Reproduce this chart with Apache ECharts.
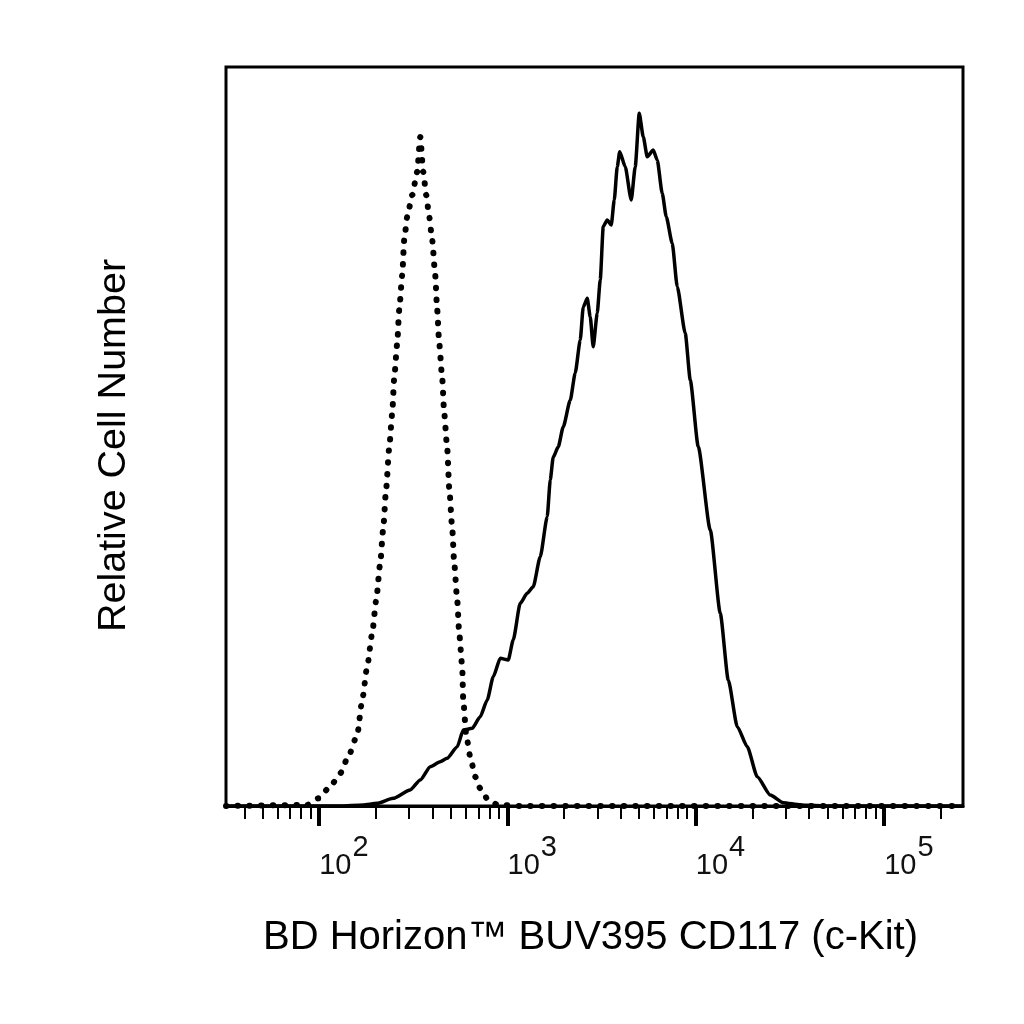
<!DOCTYPE html>
<html>
<head>
<meta charset="utf-8">
<script src="https://cdn.jsdelivr.net/npm/echarts@6/dist/echarts.min.js"></script>
<style>html,body{margin:0;padding:0;background:#fff;}#c{width:1024px;height:1024px;}</style>
</head>
<body>
<div id="c"></div>
<script>
// ---- data ----
var xTitle = 'BD Horizon\u2122 BUV395 CD117 (c-Kit)';
var yTitle = 'Relative Cell Number';
var xMin = 32;
var xMax = 262144;
var majorTickValues = [100, 1000, 10000, 100000];
var minorTickValues = [40, 50, 60, 70, 80, 90, 200, 300, 400, 500, 600, 700, 800, 900,
  2000, 3000, 4000, 5000, 6000, 7000, 8000, 9000, 20000, 30000, 40000, 50000, 60000, 70000, 80000, 90000, 200000];

// stained sample (solid line)
var stainedX = [32, 129, 171, 203, 247, 304, 344, 389, 439, 478, 541, 582, 649, 716, 780, 840, 915, 1009, 1072, 1168,
  1272, 1369, 1492, 1625, 1686, 1748, 1859, 1976, 2153, 2288, 2433, 2523, 2650, 2749, 2851, 2995, 3107, 3223, 3384, 3554,
  3687, 3825, 3943, 4217, 4538, 4766, 5005, 5256, 5520, 5939, 6237, 6630, 6963, 7493, 7966, 8785, 9340, 10297, 11926, 13480,
  14865, 16596, 18750, 21190, 24840, 29120, 35850, 51730, 262144];
var stainedY = [0, 0, 0.14, 0.37, 1.04, 2.17, 3.52, 5.32, 5.99, 6.45, 8.02, 10.28, 10.51, 12.08, 14.34, 17.49, 19.99, 19.76, 22.46, 27.43,
  28.78, 29.67, 33.73, 39.15, 44.1, 47.2, 48.6, 51.3, 54.9, 58.6, 63.05, 67.5, 68.7, 66.2, 62.15, 66.7, 71.2, 78.4, 79.29, 78.61,
  82.0, 86.5, 88.53, 86.5, 82.0, 86.5, 93.73, 90.56, 87.86, 88.76, 87.41, 82.9, 79.74, 76.14, 70.27, 63.96, 57.64, 48.62, 37.35, 26.07,
  17.05, 10.73, 8.02, 3.96, 1.49, 0.45, 0.14, 0, 0];

// isotype control (dotted line)
var controlX = [32, 86.4, 98.8, 114.4, 129.3, 142.6, 159.2, 169.2, 179.8, 191.2, 200.8, 210.9, 218.8, 226.9, 235.3, 244.2,
  250.2, 259.6, 266.0, 276.0, 282.8, 293.4, 311.9, 331.5, 344.0, 356.8, 370.2, 383.9, 398.2, 413.0, 423.3, 433.8, 450.0,
  461.1, 478.4, 490.3, 508.6, 521.2, 540.6, 554.0, 574.7, 581.8, 603.5, 633.8, 673.8, 716.1, 789.6, 892.6, 1168, 262144];
var controlY = [0, 0.14, 1.04, 2.61, 4.42, 6.67, 9.61, 14.34, 18.85, 23.37, 27.87, 32.84, 37.57, 43.03, 48.40, 53.13,
  57.87, 62.61, 67.11, 71.85, 76.58, 79.74, 82.67, 85.82, 90.52, 85.82, 82.67, 79.74, 76.58, 71.85, 67.11, 62.61, 57.87,
  53.13, 48.40, 43.03, 37.57, 32.84, 27.87, 23.37, 18.85, 14.34, 9.61, 6.67, 3.96, 2.39, 0.81, 0.14, 0, 0];

function pairs(xs, ys) { return xs.map(function (x, i) { return [x, ys[i]]; }); }
function lg(v) { return Math.log10(v); }

var chart = echarts.init(document.getElementById('c'), null, { renderer: 'canvas' });
var font = 'Liberation Sans, Arial, Helvetica, sans-serif';
var tickRange = { min: lg(xMin), max: lg(xMax) };

chart.setOption({
  animation: false,
  backgroundColor: '#fff',
  grid: { left: 226, right: 61, top: 67, bottom: 218, show: true, borderColor: '#000', borderWidth: 3, containLabel: false },
  xAxis: [
    {
      type: 'log', logBase: 10, min: xMin, max: xMax, gridIndex: 0, position: 'bottom',
      axisLine: { show: true, lineStyle: { color: '#000', width: 3 } },
      axisTick: { show: false }, axisLabel: { show: false }, splitLine: { show: false }, minorTick: { show: false },
      name: xTitle, nameLocation: 'middle', nameGap: 112,
      nameTextStyle: { fontFamily: font, fontSize: 40, color: '#000', padding: [0, 8, 0, 0] }
    },
    {
      type: 'value', min: tickRange.min, max: tickRange.max, gridIndex: 0, position: 'bottom',
      axisLine: { show: false },
      axisTick: { show: true, customValues: majorTickValues.map(lg), length: 20, lineStyle: { color: '#000', width: 4 } },
      axisLabel: {
        show: true, customValues: majorTickValues.map(lg), margin: 27, align: 'left',
        fontFamily: font, fontSize: 29, color: '#111',
        formatter: function (v) { return '{b|10}{s|' + Math.round(v) + '}'; },
        rich: {
          b: { fontFamily: font, fontSize: 29, color: '#111', verticalAlign: 'bottom' },
          s: { fontFamily: font, fontSize: 29, color: '#111', verticalAlign: 'bottom', padding: [0, 0, 18, 1] }
        }
      },
      splitLine: { show: false }
    },
    {
      type: 'value', min: tickRange.min, max: tickRange.max, gridIndex: 0, position: 'bottom',
      axisLine: { show: false },
      axisTick: { show: true, customValues: minorTickValues.map(lg), length: 13, lineStyle: { color: '#000', width: 2 } },
      axisLabel: { show: false },
      splitLine: { show: false }
    }
  ],
  yAxis: {
    type: 'value', min: 0, max: 100,
    axisLine: { show: false }, axisTick: { show: false }, axisLabel: { show: false }, splitLine: { show: false },
    name: yTitle, nameLocation: 'middle', nameRotate: 90, nameGap: 92,
    nameTextStyle: { fontFamily: font, fontSize: 39.5, color: '#000', padding: [0, 18, 0, 0] }
  },
  series: [
    {
      type: 'line', xAxisIndex: 0, yAxisIndex: 0, data: pairs(controlX, controlY),
      symbol: 'none', clip: false, z: 3, smooth: 0.2, smoothMonotone: 'x',
      lineStyle: { color: '#000', width: 6, type: [0.5, 11.2], cap: 'round', join: 'round' }
    },
    {
      type: 'line', xAxisIndex: 0, yAxisIndex: 0, data: pairs(stainedX, stainedY),
      symbol: 'none', clip: false, z: 4, smooth: 0.2, smoothMonotone: 'x',
      lineStyle: { color: '#000', width: 3.5, join: 'round' }
    }
  ]
});
</script>
</body>
</html>
